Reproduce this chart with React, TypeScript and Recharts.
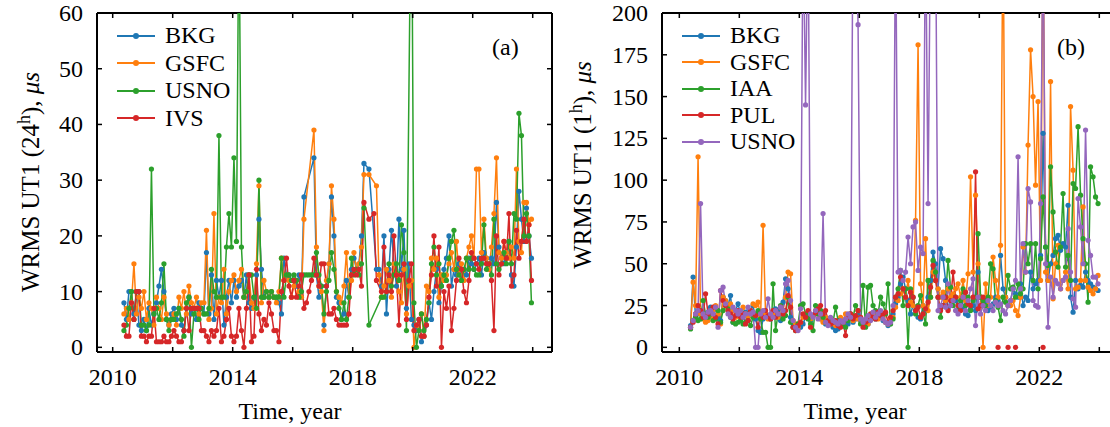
import React from 'react';
import { LineChart, Line, XAxis, YAxis, ReferenceLine } from 'recharts';

const _ = null;

// monthly samples, first one is May 2010
const T0 = 2010.375;

// ---- panel (a): WRMS UT1 24h, microseconds ----
const bkgA = [
  8, 5, 10, 10, 6, 10, 4, 3,
  5, 3, 7, 4, 6, 8, 11, 14, 10, 5, 4, 6,
  7, 5, 7, 4, 3, 7, 9, 6, 7, 5, 8, 7,
  6, 17, 6, 13, 5, 12, 9, 12, 4, 9, 12, 8,
  12, 9, 11, 12, 9, 13, 8, 7, 9, 13, 23, 14,
  9, 10, 9, 10, 9, 9, 8, 6, 16, 13, 13, 12,
  12, 11, 13, 9, 27, _, _, _, 34, 13, 9, 11,
  4, 11, 15, 27, 20, 9, 8, 5, 6, 12, 9, 14,
  16, 14, 15, 20, 33, _, 32, _, _, 14, 14, 11,
  20, 6, 14, 21, 15, 11, 23, 14, 21, 7, 15, 5,
  4, 3, 5, 1, 2, 4, 8, 5, 10, 14, 8, 11,
  14, 16, 20, 11, 14, 13, 15, 12, 14, 13, 16, 15,
  14, 15, 16, 13, 17, 16, 14, 16, 15, 26, 18, 16,
  15, 17, 19, 13, 11, 18, 28, 23, 19, 25, 20, 16,
];
const gsfcA = [
  6, 7, 5, 8, 15, 6, 9, 7,
  10, 5, 8, 7, 4, 9, 7, 5, 9, 6, 4, 5,
  6, 4, 9, 7, 10, 6, 11, 8, 7, 9, 6, 8,
  8, 21, 5, 7, 24, 6, 9, 8, 14, 6, 10, 12,
  13, 10, 12, 14, 9, 10, 13, 8, 7, 15, 29, 8,
  12, 10, 9, 10, 9, 8, 10, 16, 12, 13, 12, 9,
  11, 12, 10, 9, 23, _, _, _, 39, 18, 11, 10,
  3, 12, 15, 29, 23, 10, 9, 8, 11, 17, 9, 12,
  17, 14, 15, 18, 31, _, 31, _, _, 29, 13, 9,
  11, 14, 12, 9, 15, 13, 10, 8, 14, 6, 11, 12,
  0, 4, 3, 6, 2, 11, 10, 16, 14, 16, 9, 13,
  12, 13, 15, 17, 14, 19, 13, 15, 12, 16, 18, 20,
  16, 32, 32, 17, 23, 16, 14, 18, 24, 34, 17, 16,
  19, 17, 16, 18, 16, 32, 19, 17, 26, 26, 22, 23,
];
const usnoA = [
  3, 4, 7, 10, 5, 10, 10, 4,
  4, 3, 4, 32, 6, 7, 5, 8, 15, 5, 3, 5,
  5, 6, 7, 5, 2, 8, 9, 0, 6, 7, 5, 7,
  6, 6, 7, 14, 10, 9, 38, 9, 9, 18, 24, 18,
  34, 19, 80, 18, 9, 10, 13, 13, 9, 7, 30, 9,
  9, 10, 9, 10, 9, 9, 9, 16, 9, 13, 13, 12,
  13, 12, 9, 10, 13, 13, 13, 13, 13, 17, 13, 11,
  6, 10, 12, 17, 14, 10, 7, 5, 8, 5, 9, 16,
  13, 14, 13, 15, 25, _, 4, _, _, _, _, 9,
  9, 10, 15, 11, 13, 15, 12, 22, 17, 3, _, 90,
  8, 0, 3, 6, 3, 5, 8, 15, 18, 13, 15, 11,
  13, 12, 16, 19, 21, 14, 13, 12, 14, 16, 14, 16,
  14, 13, 13, 15, 22, 14, 15, 13, 23, 15, 14, 15,
  17, 15, 19, 15, 24, 23, 42, 38, 20, 24, 20, 8,
];
const ivsA = [
  4, 2, 2, 8, 5, 10, 10, 2,
  2, 1, 2, 2, 7, 1, 1, 1, 2, 1, 1, 2,
  3, 2, 1, 1, 3, 7, 3, 7, 7, 7, 7, 3,
  3, 2, 1, 3, 2, 3, 7, 1, 2, 5, 7, 2,
  1, 2, 7, 3, 0, 7, 13, 1, 2, 14, 6, 3,
  5, 4, 8, 6, 3, 3, 1, 10, 12, 16, 11, 9,
  12, 9, 11, 13, 7, 8, 10, 12, 16, 13, 11, 15,
  15, 11, 6, 6, 7, 5, 4, 4, 4, 4, 6, 13,
  14, 13, 14, 11, 26, _, 23, _, 24, 12, _, 10,
  18, 10, 13, 10, 20, 13, 4, 13, 15, 5, 12, 15,
  3, 4, 5, 2, 2, 4, 9, 13, 20, 11, 18, 0,
  10, 7, 11, 3, 7, 12, 16, 14, 10, 8, 12, 17,
  16, 15, 14, 16, 16, 15, 15, 12, 3, 20, 13, 15,
  19, 16, 24, 11, 13, 21, 16, 19, 23, 19, 22, 12,
];

// ---- panel (b): WRMS UT1 1h, microseconds ----
const bkgB = [
  13, 42, 18, 20, 22, 20, 17, 21,
  24, 22, 19, 18, 16, 30, 28, 25, 31, 15, 22, 26,
  20, 18, 21, 16, 22, 25, 17, 10, 9, 17, 20, 19,
  17, 20, 23, 22, 16, 27, 41, 35, 18, 14, 12, 13,
  12, 14, 18, 20, 16, 19, 22, 21, 18, 16, 14, 17,
  14, 12, 10, 11, 15, 13, 16, 14, 18, 15, 17, 19,
  16, 15, 13, 14, 18, 19, 17, 20, 18, 16, 15, 13,
  16, 20, 26, 30, 38, 42, 35, 28, 20, 25, 22, 18,
  17, 25, 22, 30, 40, 57, 50, 35, 59, 53, 40, 23,
  25, 30, 28, 22, 26, 24, 20, 19, 23, 25, 22, 45,
  30, 25, 28, 22, 24, 26, 30, 28, 55, 35, 30, 25,
  28, 35, 32, 30, 38, 25, 30, 28, 45, 35, 38, 40,
  55, 128, 60, 40, 50, 55, 65, 67, 58, 62, 60, 85,
  30, 21, 40, 35, 37, 36, 45, 40, 38, 36, 35, 34,
];
const gsfcB = [
  12, 39, 25, 114, 20, 17, 15, 16,
  18, 22, 25, 20, 14, 30, 28, 24, 26, 22, 18, 20,
  21, 24, 20, 18, 22, 26, 25, 27, 18, 73, 20, 17,
  19, 21, 20, 18, 24, 22, 30, 45, 44, 16, 14, 12,
  15, 18, 20, 21, 17, 19, 22, 20, 17, 15, 18, 16,
  14, 16, 13, 15, 18, 16, 20, 17, 19, 16, 18, 17,
  18, 16, 15, 14, 19, 20, 18, 17, 19, 18, 15, 14,
  16, 18, 24, 28, 32, 35, 30, 40, 27, 25, 76, 181,
  38, 25, 65, 22, 30, 45, 40, 35, 30, 33, 28, 35,
  30, 32, 35, 38, 30, 40, 28, 44, 102, 45, 91, 50,
  30, 0, 38, 25, 30, 54, 40, 30, 61, 260, 30, 25,
  25, 28, 22, 19, 30, 60, 45, 121, 178, 150, 97, 147,
  40, 260, 45, 40, 159, 29, 50, 61, 35, 40, 45, 35,
  144, 106, 35, 36, 40, 84, 40, 36, 34, 32, 35, 43,
];
const iaaB = [
  11, 16, 18, 16, 17, 28, 20, 18,
  20, 16, 17, 22, 15, 22, 25, 23, 18, 15, 14, 15,
  16, 14, 15, 16, 13, 18, 20, 22, 17, 9, 9, 0,
  0, 38, 10, 20, 25, 17, 19, 30, 15, 12, 10, 14,
  25, 26, 20, 17, 14, 10, 25, 20, 22, 18, 15, 14,
  16, 15, 24, 16, 13, 14, 12, 16, 20, 18, 25, 22,
  14, 37, 12, 36, 37, 25, 22, 20, 30, 26, 20, 38,
  14, 17, 30, 35, 46, 25, 35, 0, 35, 30, 20, 25,
  31, 20, 14, 40, 30, 52, 45, 30, 18, 25, 30, 52,
  36, 25, 30, 22, 28, 35, 25, 30, 22, 28, 30, 68,
  30, 28, 25, 30, 50, 47, 28, 24, 16, 30, 27, 43,
  35, 36, 30, 38, 32, 35, 62, 50, 62, 40, 62, 35,
  53, 90, 60, 49, 108, 81, 57, 48, 60, 92, 48, 55,
  40, 98, 95, 132, 91, 65, 50, 27, 108, 102, 90, 86,
];
const pulB = [
  12, 15, 20, 25, 22, 18, 32, 20,
  22, 24, 18, 14, 34, 28, 25, 22, 20, 17, 19, 22,
  18, 20, 14, 16, 22, 20, 19, 12, 20, 18, 22, 19,
  17, 22, 18, 20, 24, 20, 22, 31, 24, 12, 10, 13,
  15, 20, 18, 22, 12, 19, 21, 23, 25, 20, 22, 16,
  14, 15, 16, 13, 12, 15, 7, 18, 20, 17, 19, 22,
  18, 12, 15, 16, 20, 18, 17, 21, 19, 20, 21, 15,
  18, 22, 30, 32, 42, 35, 30, 25, 33, 30, 22, 24,
  18, 20, 23, 27, 36, 49, 40, 30, 22, 25, 30, 22,
  28, 45, 30, 25, 22, 30, 33, 26, 25, 30, 105, 23,
  25, 30, _, _, _, _, _, 0, _, _, _, 0,
  _, _, 0, _, _, _, _, _, _, _, _, _,
  _, 0, _, _, _, _, _, _, _, _, _, _,
  _, _, _, _, _, _, _, _, _, _, _, _,
];
const usnoB = [
  12, 16, 20, 22, 86, 20, 18, 21,
  22, 20, 24, 12, 34, 36, 26, 20, 18, 24, 22, 20,
  22, 18, 20, 24, 20, 21, 0, 0, 20, 22, 18, 29,
  20, 18, 22, 20, 24, 22, 38, 40, 28, 16, 12, 10,
  23, 260, 145, 260, 20, 18, 22, 17, 20, 80, 15, 13,
  18, 16, 15, 14, 16, 15, 17, 20, 18, 260, 260, 193,
  17, 15, 17, 19, 16, 21, 18, 20, 22, 17, 15, 14,
  15, 25, 260, 45, 46, 40, 45, 66, 50, 72, 75, 46,
  60, 56, 260, 86, 260, 260, 260, 22, 25, 30, 24, 38,
  25, 28, 22, 20, 25, 30, 22, 28, 35, 41, 13, 30,
  20, 25, 22, 28, 25, 22, 27, 25, 26, 22, 20, 25,
  28, 35, 40, 114, 35, 62, 45, 95, 87, 28, 25, 24,
  86, 260, 50, 12, 42, 30, 40, 38, 35, 40, 42, 71,
  45, 29, 24, 89, 72, 50, 130, 64, 55, 42, 42, 38,
];

const xTicks = [2010, 2012, 2014, 2016, 2018, 2020, 2022, 2024];
const xLabeled = [2010, 2014, 2018, 2022];
const yTicksA = [0, 10, 20, 30, 40, 50, 60];
const yTicksB = [0, 25, 50, 75, 100, 125, 150, 175, 200];

const times = bkgA.map((_v, i) => Number((T0 + i / 12).toFixed(4)));
const rowsA = times.map((t, i) => ({ t, bkg: bkgA[i], gsfc: gsfcA[i], usno: usnoA[i], ivs: ivsA[i] }));
const rowsB = times.map((t, i) => ({
  t, bkg: bkgB[i], gsfc: gsfcB[i], iaa: iaaB[i], pul: pulB[i], usno: usnoB[i],
}));

const BLUE = '#1f77b4';
const ORANGE = '#ff7f0e';
const GREEN = '#2ca02c';
const RED = '#d62728';
const PURPLE = '#9467bd';

const FONT = '"Liberation Serif", "DejaVu Serif", serif';

const seriesA = [
  { key: 'bkg', label: 'BKG', color: BLUE },
  { key: 'gsfc', label: 'GSFC', color: ORANGE },
  { key: 'usno', label: 'USNO', color: GREEN },
  { key: 'ivs', label: 'IVS', color: RED },
];
const seriesB = [
  { key: 'bkg', label: 'BKG', color: BLUE },
  { key: 'gsfc', label: 'GSFC', color: ORANGE },
  { key: 'iaa', label: 'IAA', color: GREEN },
  { key: 'pul', label: 'PUL', color: RED },
  { key: 'usno', label: 'USNO', color: PURPLE },
];

interface Box { left: number; right: number; top: number; bottom: number }

function Panel(props: {
  left: number; width: number; box: Box; data: any[]; series: typeof seriesA;
  xDomain: [number, number]; yDomain: [number, number]; yTicks: number[];
  yLabel: React.ReactNode; yLabelPos: [number, number]; tag: string; legendGap: number;
}) {
  const { left, width, box, data, series, xDomain, yDomain, yTicks, yLabelPos, legendGap } = props;
  const height = 427;
  const yAxisW = 60;
  const xAxisH = 30;
  const margin = { top: box.top, right: width - box.right, left: box.left - yAxisW, bottom: height - box.bottom - xAxisH };

  // inward ticks on all four sides, like the original plot
  const xTick = (p: any) => {
    const v = p.payload.value;
    return (
      <g>
        <line x1={p.x} x2={p.x} y1={box.bottom} y2={box.bottom - 5} stroke="#000" strokeWidth={1.5} />
        <line x1={p.x} x2={p.x} y1={box.top} y2={box.top + 5} stroke="#000" strokeWidth={1.5} />
        {xLabeled.includes(v) && (
          <text x={p.x} y={box.bottom + 33} textAnchor="middle" fontFamily={FONT} fontSize={24} fill="#000">{v}</text>
        )}
      </g>
    );
  };
  const yTick = (p: any) => (
    <g>
      <line x1={box.left} x2={box.left + 5} y1={p.y} y2={p.y} stroke="#000" strokeWidth={1.5} />
      <line x1={box.right} x2={box.right - 5} y1={p.y} y2={p.y} stroke="#000" strokeWidth={1.5} />
      <text x={box.left - 14} y={p.y + 8} textAnchor="end" fontFamily={FONT} fontSize={24} fill="#000">{p.payload.value}</text>
    </g>
  );

  return (
    <div style={{ position: 'absolute', left, top: 0, width, height }}>
      <LineChart width={width} height={height} data={data} margin={margin}>
        <XAxis
          type="number" dataKey="t" domain={xDomain} ticks={xTicks} interval={0}
          allowDataOverflow tick={xTick} tickLine={false} height={xAxisH}
          axisLine={{ stroke: '#000', strokeWidth: 2 }}
        />
        <YAxis
          type="number" domain={yDomain} ticks={yTicks} interval={0}
          allowDataOverflow tick={yTick} tickLine={false} width={yAxisW}
          axisLine={{ stroke: '#000', strokeWidth: 2 }}
        />
        <ReferenceLine y={yDomain[1]} stroke="#000" strokeWidth={2} />
        <ReferenceLine x={xDomain[1]} stroke="#000" strokeWidth={2} />
        {series.map((s) => (
          <Line
            key={s.key}
            dataKey={s.key}
            stroke={s.color}
            strokeWidth={1.5}
            dot={{ r: 2.6, fill: s.color, stroke: s.color, strokeWidth: 0 }}
            activeDot={false}
            connectNulls={s.key !== 'pul'}
            isAnimationActive={false}
          />
        ))}
      </LineChart>

      {/* legend, upper left inside the axes */}
      {series.map((s, i) => (
        <div
          key={s.key}
          style={{
            position: 'absolute', left: box.left + 20, top: 35.5 + i * legendGap - 14, height: 28,
            display: 'flex', alignItems: 'center', fontFamily: FONT, fontSize: 24, color: '#000',
          }}
        >
          <svg width={38} height={10} style={{ marginRight: 10 }}>
            <line x1={0} x2={38} y1={5} y2={5} stroke={s.color} strokeWidth={2} />
            <circle cx={19} cy={5} r={3} fill={s.color} />
          </svg>
          <span>{s.label}</span>
        </div>
      ))}

      <div style={{ position: 'absolute', left: box.left + 395, top: 33, fontFamily: FONT, fontSize: 24, lineHeight: '28px' }}>
        {props.tag}
      </div>

      <div
        style={{
          position: 'absolute', left: yLabelPos[0], top: yLabelPos[1], fontFamily: FONT, fontSize: 25,
          whiteSpace: 'nowrap', transform: 'translate(-50%, -50%) rotate(-90deg)', lineHeight: '30px',
        }}
      >
        {props.yLabel}
      </div>

      <div
        style={{
          position: 'absolute', left: box.left + 193, top: 398, fontFamily: FONT, fontSize: 24,
          whiteSpace: 'nowrap', transform: 'translateX(-50%)', lineHeight: '26px',
        }}
      >
        Time, year
      </div>
    </div>
  );
}

export default function App() {
  return (
    <div style={{ position: 'absolute', left: 0, top: 0, width: 1110, height: 427, overflow: 'hidden', background: '#fff' }}>
      <Panel
        left={0}
        width={560}
        box={{ left: 97, right: 552, top: 13, bottom: 352 }}
        data={rowsA}
        series={seriesA}
        xDomain={[2009.477, 2024.643]}
        yDomain={[-0.84, 60]}
        yTicks={yTicksA}
        yLabel={<span>WRMS UT1 (24<sup style={{ fontSize: '0.72em' }}>h</sup>), <i>μs</i></span>}
        yLabelPos={[28, 182]}
        tag="(a)"
        legendGap={27.6}
      />
      <Panel
        left={556}
        width={564}
        box={{ left: 106, right: 562, top: 13, bottom: 352 }}
        data={rowsB}
        series={seriesB}
        xDomain={[2009.423, 2024.623]}
        yDomain={[-2.8, 200]}
        yTicks={yTicksB}
        yLabel={<span>WRMS UT1 (1<sup style={{ fontSize: '0.72em' }}>h</sup>), <i>μs</i></span>}
        yLabelPos={[24, 165]}
        tag="(b)"
        legendGap={26.5}
      />
    </div>
  );
}
